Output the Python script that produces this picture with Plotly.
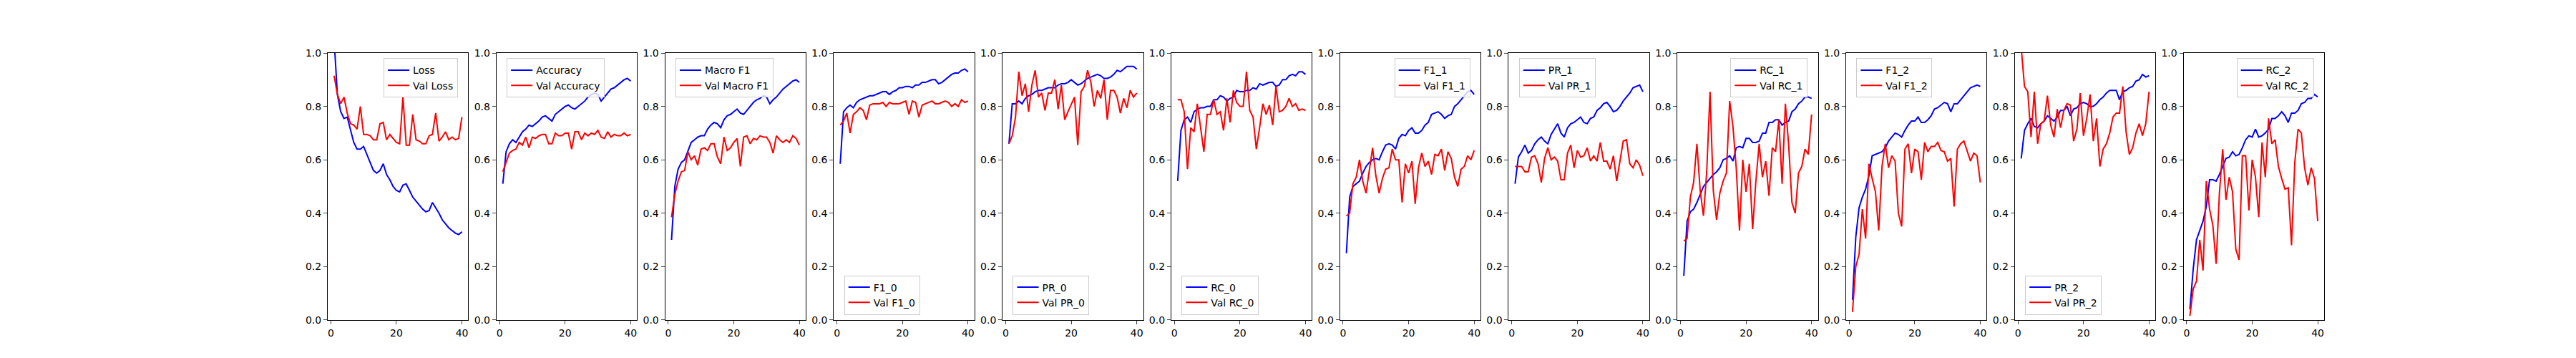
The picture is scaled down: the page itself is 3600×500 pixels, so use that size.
import plotly.graph_objects as go

epochs = list(range(1, 41))

loss = [1.05, 0.844, 0.781, 0.755, 0.76, 0.71, 0.665, 0.64, 0.64, 0.65, 0.62, 0.585, 0.56, 0.55, 0.56, 0.585, 0.545, 0.525, 0.5, 0.485,
        0.48, 0.505, 0.51, 0.485, 0.46, 0.445, 0.43, 0.415, 0.405, 0.41, 0.44, 0.42, 0.40, 0.375, 0.36, 0.345, 0.335, 0.325, 0.32, 0.33]
val_loss = [0.915, 0.845, 0.81, 0.835, 0.775, 0.735, 0.73, 0.715, 0.8, 0.695, 0.695, 0.69, 0.675, 0.675, 0.735, 0.74, 0.675, 0.695, 0.68, 0.665,
            0.66, 0.835, 0.655, 0.655, 0.77, 0.675, 0.67, 0.66, 0.66, 0.69, 0.695, 0.775, 0.67, 0.685, 0.705, 0.675, 0.685, 0.675, 0.68, 0.76]
acc = [0.51, 0.63, 0.66, 0.675, 0.665, 0.685, 0.705, 0.715, 0.73, 0.725, 0.735, 0.745, 0.76, 0.765, 0.755, 0.745, 0.77, 0.78, 0.79, 0.8,
       0.805, 0.795, 0.79, 0.80, 0.81, 0.82, 0.835, 0.845, 0.85, 0.845, 0.82, 0.835, 0.85, 0.865, 0.87, 0.88, 0.89, 0.9, 0.905, 0.895]
val_acc = [0.555, 0.59, 0.625, 0.635, 0.64, 0.665, 0.655, 0.685, 0.645, 0.685, 0.68, 0.69, 0.695, 0.695, 0.66, 0.66, 0.70, 0.69, 0.69, 0.70,
           0.70, 0.64, 0.705, 0.705, 0.675, 0.70, 0.69, 0.70, 0.695, 0.71, 0.685, 0.68, 0.705, 0.685, 0.695, 0.69, 0.69, 0.70, 0.69, 0.695]
mf1 = [0.30, 0.50, 0.565, 0.59, 0.60, 0.635, 0.665, 0.675, 0.685, 0.69, 0.69, 0.715, 0.73, 0.74, 0.735, 0.72, 0.75, 0.765, 0.77, 0.78,
       0.79, 0.775, 0.77, 0.785, 0.80, 0.815, 0.825, 0.83, 0.84, 0.835, 0.81, 0.825, 0.835, 0.85, 0.865, 0.875, 0.885, 0.895, 0.9, 0.89]
val_mf1 = [0.385, 0.47, 0.52, 0.555, 0.56, 0.63, 0.60, 0.615, 0.58, 0.64, 0.645, 0.635, 0.66, 0.66, 0.61, 0.585, 0.685, 0.635, 0.645, 0.665,
           0.68, 0.575, 0.685, 0.69, 0.66, 0.68, 0.675, 0.69, 0.685, 0.685, 0.665, 0.625, 0.69, 0.675, 0.665, 0.675, 0.665, 0.69, 0.68, 0.655]
f1_0 = [0.585, 0.78, 0.795, 0.805, 0.795, 0.815, 0.825, 0.83, 0.835, 0.84, 0.84, 0.845, 0.85, 0.855, 0.855, 0.845, 0.855, 0.86, 0.87, 0.87,
        0.875, 0.875, 0.87, 0.88, 0.88, 0.89, 0.89, 0.895, 0.9, 0.9, 0.885, 0.89, 0.9, 0.91, 0.92, 0.925, 0.925, 0.935, 0.94, 0.93]
val_f1_0 = [0.73, 0.745, 0.775, 0.70, 0.77, 0.78, 0.795, 0.785, 0.75, 0.805, 0.81, 0.81, 0.81, 0.815, 0.80, 0.815, 0.81, 0.81, 0.81, 0.815,
            0.82, 0.77, 0.82, 0.815, 0.76, 0.805, 0.81, 0.815, 0.82, 0.81, 0.81, 0.815, 0.82, 0.815, 0.80, 0.81, 0.80, 0.825, 0.815, 0.82]
pr_0 = [0.66, 0.81, 0.81, 0.82, 0.81, 0.83, 0.84, 0.845, 0.855, 0.86, 0.86, 0.865, 0.87, 0.87, 0.87, 0.88, 0.885, 0.885, 0.89, 0.9,
        0.89, 0.88, 0.885, 0.895, 0.905, 0.91, 0.915, 0.92, 0.915, 0.905, 0.905, 0.91, 0.92, 0.935, 0.93, 0.94, 0.95, 0.95, 0.95, 0.94]
val_pr_0 = [0.66, 0.69, 0.76, 0.93, 0.84, 0.885, 0.78, 0.88, 0.935, 0.835, 0.85, 0.785, 0.85, 0.85, 0.9, 0.79, 0.88, 0.75, 0.78, 0.81,
            0.835, 0.655, 0.855, 0.875, 0.935, 0.89, 0.8, 0.86, 0.83, 0.9, 0.75, 0.86, 0.86, 0.835, 0.775, 0.83, 0.795, 0.86, 0.835, 0.85]
rc_0 = [0.52, 0.71, 0.75, 0.76, 0.74, 0.78, 0.79, 0.795, 0.795, 0.80, 0.80, 0.825, 0.825, 0.84, 0.835, 0.82, 0.83, 0.835, 0.86, 0.855,
        0.855, 0.86, 0.86, 0.87, 0.865, 0.885, 0.88, 0.885, 0.89, 0.89, 0.875, 0.88, 0.9, 0.9, 0.915, 0.92, 0.915, 0.93, 0.93, 0.92]
val_rc_0 = [0.825, 0.825, 0.78, 0.565, 0.72, 0.705, 0.81, 0.725, 0.63, 0.77, 0.77, 0.825, 0.77, 0.78, 0.71, 0.83, 0.74, 0.86, 0.815, 0.8,
            0.8, 0.93, 0.785, 0.76, 0.64, 0.72, 0.81, 0.77, 0.805, 0.73, 0.875, 0.78, 0.785, 0.8, 0.83, 0.8, 0.81, 0.785, 0.79, 0.785]
f1_1 = [0.25, 0.46, 0.5, 0.51, 0.52, 0.55, 0.575, 0.59, 0.60, 0.605, 0.60, 0.63, 0.655, 0.66, 0.655, 0.64, 0.68, 0.695, 0.69, 0.71,
        0.72, 0.70, 0.70, 0.71, 0.73, 0.74, 0.77, 0.775, 0.78, 0.77, 0.755, 0.765, 0.77, 0.80, 0.81, 0.825, 0.84, 0.855, 0.86, 0.845]
val_f1_1 = [0.39, 0.40, 0.51, 0.535, 0.60, 0.52, 0.475, 0.555, 0.645, 0.54, 0.475, 0.53, 0.565, 0.57, 0.64, 0.60, 0.60, 0.44, 0.585, 0.55,
            0.595, 0.435, 0.57, 0.625, 0.575, 0.595, 0.545, 0.62, 0.615, 0.64, 0.56, 0.63, 0.605, 0.535, 0.50, 0.565, 0.575, 0.615, 0.60, 0.635]
pr_1 = [0.51, 0.61, 0.63, 0.655, 0.625, 0.635, 0.66, 0.675, 0.685, 0.67, 0.66, 0.695, 0.715, 0.735, 0.70, 0.685, 0.72, 0.735, 0.74, 0.75,
        0.76, 0.74, 0.735, 0.755, 0.76, 0.785, 0.795, 0.81, 0.815, 0.80, 0.78, 0.785, 0.80, 0.82, 0.835, 0.85, 0.87, 0.875, 0.88, 0.855]
val_pr_1 = [0.575, 0.575, 0.575, 0.555, 0.555, 0.61, 0.615, 0.585, 0.515, 0.605, 0.645, 0.60, 0.61, 0.595, 0.525, 0.525, 0.625, 0.655, 0.57, 0.635,
            0.61, 0.615, 0.645, 0.595, 0.615, 0.595, 0.665, 0.595, 0.595, 0.565, 0.615, 0.52, 0.595, 0.67, 0.675, 0.585, 0.57, 0.60, 0.58, 0.54]
rc_1 = [0.165, 0.37, 0.405, 0.415, 0.44, 0.47, 0.50, 0.515, 0.53, 0.545, 0.555, 0.57, 0.60, 0.605, 0.615, 0.595, 0.645, 0.65, 0.645, 0.68,
        0.68, 0.665, 0.665, 0.67, 0.70, 0.70, 0.74, 0.74, 0.75, 0.75, 0.73, 0.74, 0.745, 0.78, 0.79, 0.81, 0.82, 0.835, 0.835, 0.83]
val_rc_1 = [0.295, 0.305, 0.46, 0.515, 0.66, 0.485, 0.39, 0.555, 0.855, 0.485, 0.375, 0.475, 0.52, 0.55, 0.82, 0.725, 0.57, 0.335, 0.60, 0.48,
            0.585, 0.34, 0.52, 0.66, 0.535, 0.595, 0.465, 0.645, 0.63, 0.75, 0.51, 0.81, 0.655, 0.44, 0.40, 0.55, 0.575, 0.64, 0.62, 0.77]
f1_2 = [0.075, 0.31, 0.42, 0.46, 0.49, 0.54, 0.615, 0.62, 0.625, 0.63, 0.645, 0.67, 0.685, 0.70, 0.695, 0.685, 0.71, 0.73, 0.745, 0.745,
        0.76, 0.74, 0.74, 0.75, 0.765, 0.79, 0.795, 0.805, 0.815, 0.81, 0.78, 0.81, 0.81, 0.825, 0.84, 0.855, 0.87, 0.875, 0.88, 0.875]
val_f1_2 = [0.03, 0.2, 0.245, 0.415, 0.305, 0.585, 0.53, 0.48, 0.335, 0.575, 0.66, 0.57, 0.615, 0.595, 0.40, 0.35, 0.64, 0.66, 0.55, 0.64,
            0.63, 0.525, 0.665, 0.63, 0.65, 0.65, 0.665, 0.635, 0.63, 0.595, 0.605, 0.425, 0.64, 0.66, 0.67, 0.63, 0.595, 0.625, 0.615, 0.515]
pr_2 = [0.605, 0.71, 0.735, 0.755, 0.725, 0.72, 0.735, 0.745, 0.765, 0.755, 0.745, 0.76, 0.785, 0.785, 0.80, 0.765, 0.79, 0.795, 0.81, 0.815,
        0.81, 0.80, 0.80, 0.81, 0.825, 0.835, 0.85, 0.86, 0.86, 0.86, 0.825, 0.855, 0.86, 0.87, 0.875, 0.895, 0.90, 0.92, 0.91, 0.915]
val_pr_2 = [1.02, 0.875, 0.855, 0.685, 0.855, 0.66, 0.735, 0.745, 0.84, 0.73, 0.685, 0.79, 0.72, 0.785, 0.81, 0.805, 0.67, 0.715, 0.85, 0.69,
            0.755, 0.845, 0.67, 0.755, 0.575, 0.64, 0.66, 0.70, 0.76, 0.775, 0.775, 0.875, 0.705, 0.62, 0.645, 0.70, 0.735, 0.69, 0.735, 0.855]
rc_2 = [0.04, 0.19, 0.30, 0.335, 0.37, 0.425, 0.525, 0.525, 0.52, 0.545, 0.575, 0.605, 0.61, 0.63, 0.615, 0.62, 0.645, 0.675, 0.69, 0.685,
        0.715, 0.685, 0.69, 0.70, 0.715, 0.755, 0.755, 0.765, 0.78, 0.765, 0.74, 0.775, 0.775, 0.785, 0.81, 0.815, 0.83, 0.83, 0.845, 0.835]
val_rc_2 = [0.015, 0.115, 0.145, 0.30, 0.185, 0.52, 0.415, 0.355, 0.21, 0.475, 0.64, 0.45, 0.535, 0.48, 0.265, 0.225, 0.615, 0.615, 0.41, 0.60,
            0.535, 0.385, 0.665, 0.535, 0.755, 0.66, 0.675, 0.575, 0.53, 0.49, 0.495, 0.28, 0.59, 0.715, 0.70, 0.57, 0.505, 0.57, 0.53, 0.37]

panels = [
    ("Loss", loss, "Val Loss", val_loss, "ur"),
    ("Accuracy", acc, "Val Accuracy", val_acc, "ul"),
    ("Macro F1", mf1, "Val Macro F1", val_mf1, "ul"),
    ("F1_0", f1_0, "Val F1_0", val_f1_0, "ll"),
    ("PR_0", pr_0, "Val PR_0", val_pr_0, "ll"),
    ("RC_0", rc_0, "Val RC_0", val_rc_0, "ll"),
    ("F1_1", f1_1, "Val F1_1", val_f1_1, "ur"),
    ("PR_1", pr_1, "Val PR_1", val_pr_1, "ul"),
    ("RC_1", rc_1, "Val RC_1", val_rc_1, "ur"),
    ("F1_2", f1_2, "Val F1_2", val_f1_2, "ul"),
    ("PR_2", pr_2, "Val PR_2", val_pr_2, "ll"),
    ("RC_2", rc_2, "Val RC_2", val_rc_2, "ur"),
]

W, H = 3600, 500
left, right, bottom, top = 450, 3240, 0.11, 0.88
pw = (right - left) / (12 + 11 * 0.2)
gap = pw * 0.2

fig = go.Figure()
layout = dict(width=W, height=H, margin=dict(l=0, r=0, t=0, b=0),
              paper_bgcolor="white", plot_bgcolor="white",
              font=dict(family="DejaVu Sans", size=14, color="black"))

for i, (n1, d1, n2, d2, loc) in enumerate(panels):
    k = "" if i == 0 else str(i + 1)
    x0 = (left + i * (pw + gap)) / W
    x1 = x0 + pw / W
    leg = "legend" + k
    fig.add_trace(go.Scatter(x=epochs, y=d1, name=n1, mode="lines", line=dict(color="blue", width=2),
                             xaxis="x" + k, yaxis="y" + k, legend=leg))
    fig.add_trace(go.Scatter(x=epochs, y=d2, name=n2, mode="lines", line=dict(color="red", width=2),
                             xaxis="x" + k, yaxis="y" + k, legend=leg))
    ax = dict(showline=True, linecolor="black", linewidth=1, mirror=True, ticks="outside",
              ticklen=5, showgrid=False, zeroline=False)
    layout["xaxis" + k] = dict(ax, domain=[x0, x1], range=[-0.95, 41.95], tickvals=[0, 20, 40],
                               anchor="y" + k)
    layout["yaxis" + k] = dict(ax, domain=[bottom, top], range=[0, 1], tickvals=[0, 0.2, 0.4, 0.6, 0.8, 1.0],
                               tickformat=".1f", anchor="x" + k)
    pad = 0.004
    if loc == "ur":
        lx, ly, xa, ya = x1 - pad, top - 0.015, "right", "top"
    elif loc == "ul":
        lx, ly, xa, ya = x0 + pad, top - 0.015, "left", "top"
    else:
        lx, ly, xa, ya = x0 + pad, bottom + 0.015, "left", "bottom"
    layout[leg] = dict(x=lx, y=ly, xanchor=xa, yanchor=ya, bgcolor="rgba(255,255,255,0.8)",
                       bordercolor="#cccccc", borderwidth=1, font=dict(size=14), tracegroupgap=0)

fig.update_layout(**layout)
fig.write_html("out.html")
